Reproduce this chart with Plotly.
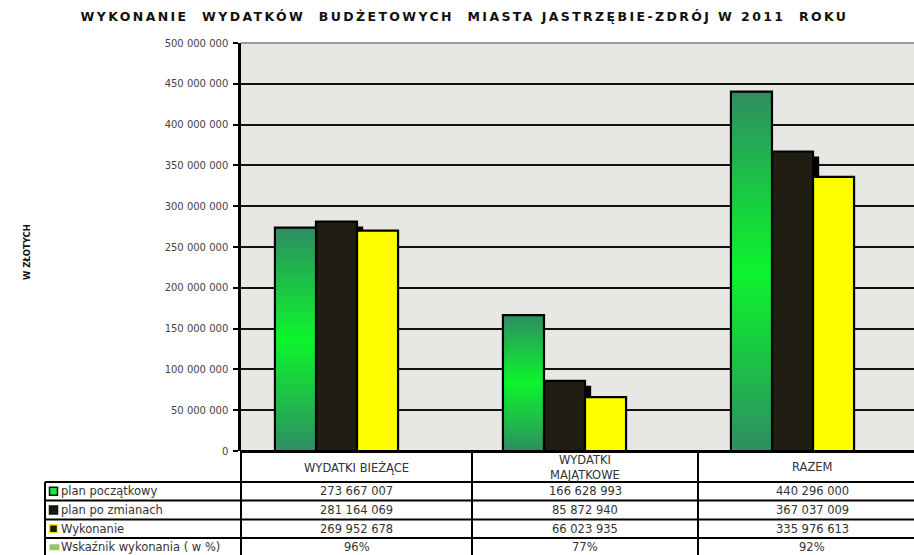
import plotly.graph_objects as go

# ---------------- data ----------------
categories = ["WYDATKI BIEŻĄCE", "WYDATKI<br>MAJĄTKOWE", "RAZEM"]
series_names = ["plan początkowy", "plan po zmianach", "Wykonanie", "Wskaźnik wykonania ( w %)"]
plan_poczatkowy = [273667007, 166628993, 440296000]
plan_po_zmianach = [281164069, 85872940, 367037009]
wykonanie = [269952678, 66023935, 335976613]
wskaznik_pct = [96, 77, 92]
y_ticks = [0, 50000000, 100000000, 150000000, 200000000, 250000000,
           300000000, 350000000, 400000000, 450000000, 500000000]

title_text = "WYKONANIE  WYDATKÓW  BUDŻETOWYCH  MIASTA JASTRZĘBIE-ZDRÓJ W 2011  ROKU"
y_title = "W ZŁOTYCH"

# ---------------- styling ----------------
W, H = 914, 555
FONT = "DejaVu Sans"
TXT = "#333333"
GREEN_SCALE = [[0, "#2E8E62"], [0.5, "#0CF52C"], [1, "#2E8E62"]]
BLACK_BAR = "#201D12"
YELLOW = "#FFFF00"
BAR_W = 0.18
SHADOW_DX = 0.027
SHADOW_DY = 6000000
icon_styles = [
    dict(fill="#17E83A", line="#111111"),
    dict(fill="#1A1A12", line="#111111"),
    dict(fill="#1A1A12", line="#F5F000"),
    dict(fill="#9BC36A", line="#9BC36A"),
]


def fmt(v):
    return f"{v:,}".replace(",", " ")


def fx(p):  # pixel -> paper x
    return p / W


def fy(p):  # pixel (from top) -> paper y
    return 1 - p / H


plot_left, plot_top, plot_bottom = 241, 43, 451
x_center0, x_step = 336.5, 228.0
x_lo = (plot_left - x_center0) / x_step
x_hi = (W - x_center0) / x_step

# table geometry (pixels)
tab_left = 45
col_edges = [tab_left, 241, 472, 698, W]
col_centers = [356.5, 585, 812]
row_lines = [482, 500.5, 519.5, 538, 556.5]
header_center = 467

xs = list(range(len(categories)))
fig = go.Figure()

# plan po zmianach - shadow (3D effect)
fig.add_trace(go.Bar(
    x=xs, y=[v - SHADOW_DY for v in plan_po_zmianach], width=BAR_W,
    offset=-BAR_W / 2 + SHADOW_DX, marker=dict(color="#000000", line=dict(width=0)),
    hoverinfo="skip", showlegend=False))
# plan po zmianach
fig.add_trace(go.Bar(
    x=xs, y=plan_po_zmianach, width=BAR_W, offset=-BAR_W / 2, name=series_names[1],
    marker=dict(color=BLACK_BAR, line=dict(color="#000000", width=2.2)), showlegend=False))
# wykonanie
fig.add_trace(go.Bar(
    x=xs, y=wykonanie, width=BAR_W, offset=BAR_W / 2, name=series_names[2],
    marker=dict(color=YELLOW, line=dict(color="#000000", width=2.2)), showlegend=False))
# plan poczatkowy - gradient filled bars
for i, v in enumerate(plan_poczatkowy):
    x0 = i - 1.5 * BAR_W
    x1 = i - 0.5 * BAR_W
    fig.add_trace(go.Scatter(
        x=[x0, x0, x1, x1, x0], y=[0, v, v, 0, 0], mode="lines", fill="toself",
        fillgradient=dict(type="vertical", colorscale=GREEN_SCALE),
        line=dict(color="#000000", width=2.2), name=series_names[0],
        showlegend=False, hoverinfo="skip"))

# ---------------- data table (shapes + text) ----------------
shapes = [dict(type="line", xref="x domain", yref="y domain",
               x0=0, x1=1, y0=1, y1=1, line=dict(color="#9A9A9A", width=2))]
line_style = dict(color="#000000", width=2)
for yl in row_lines:
    shapes.append(dict(type="line", xref="paper", yref="paper",
                       x0=fx(tab_left), x1=1, y0=fy(yl), y1=fy(yl), line=line_style))
shapes.append(dict(type="line", xref="paper", yref="paper",
                   x0=fx(tab_left), x1=fx(tab_left), y0=fy(row_lines[0]), y1=fy(H + 5),
                   line=line_style))
for xe in col_edges[1:4]:
    shapes.append(dict(type="line", xref="paper", yref="paper",
                       x0=fx(xe), x1=fx(xe), y0=fy(plot_bottom), y1=fy(H + 5),
                       line=line_style))

annotations = []
table_font = dict(family=FONT, size=11.5, color=TXT)
for i, cat in enumerate(categories):
    annotations.append(dict(text=cat, x=fx(col_centers[i]), y=fy(header_center),
                            xref="paper", yref="paper", showarrow=False,
                            xanchor="center", yanchor="middle", font=table_font))
row_values = [plan_poczatkowy, plan_po_zmianach, wykonanie]
for k in range(4):
    yc = (row_lines[k] + row_lines[k + 1]) / 2
    st = icon_styles[k]
    if k < 3:
        shapes.append(dict(type="rect", xref="paper", yref="paper",
                           x0=fx(49.5), x1=fx(57.5), y0=fy(yc + 4), y1=fy(yc - 4),
                           fillcolor=st["fill"], line=dict(color=st["line"], width=1.5)))
    else:
        shapes.append(dict(type="rect", xref="paper", yref="paper",
                           x0=fx(49.5), x1=fx(59.5), y0=fy(yc + 3), y1=fy(yc - 3),
                           fillcolor=st["fill"], line=dict(width=0)))
    annotations.append(dict(text=series_names[k], x=fx(59), y=fy(yc),
                            xref="paper", yref="paper", showarrow=False,
                            xanchor="left", yanchor="middle", font=table_font))
    for i in range(len(categories)):
        txt = fmt(row_values[k][i]) if k < 3 else f"{wskaznik_pct[i]}%"
        annotations.append(dict(text=txt, x=fx(col_centers[i]), y=fy(yc),
                                xref="paper", yref="paper", showarrow=False,
                                xanchor="center", yanchor="middle", font=table_font))

annotations.append(dict(text=y_title, textangle=-90, x=fx(20), y=fy(252),
                        xref="paper", yref="paper", showarrow=False,
                        font=dict(family=FONT, size=8.5, color="#111111", weight="bold")))

# ---------------- layout ----------------
fig.update_layout(
    width=W, height=H,
    margin=dict(l=0, r=0, t=0, b=0, autoexpand=False),
    paper_bgcolor="white",
    plot_bgcolor="#E7E7E3",
    barmode="overlay",
    showlegend=False,
    font=dict(family=FONT, color=TXT),
    title=dict(
        text='<span style="letter-spacing:2.4px">' + title_text.replace(" ", "\u00a0") + "</span>",
        x=fx(464.5), xanchor="center", xref="paper", y=fy(17), yanchor="middle",
        yref="paper", automargin=False,
        font=dict(family=FONT, size=12.5, color="#111111", weight="bold")),
    xaxis=dict(domain=[fx(plot_left), 1], range=[x_lo, x_hi], automargin=False,
               showticklabels=False, showgrid=False, zeroline=False,
               showline=False, ticks=""),
    yaxis=dict(domain=[fy(plot_bottom), fy(plot_top)], automargin=False,
               range=[0, 500000000], tickvals=y_ticks,
               ticktext=[fmt(v) for v in y_ticks],
               tickfont=dict(family=FONT, size=10, color="#444444"),
               ticks="outside", ticklen=5, tickwidth=2, tickcolor="black",
               ticklabelstandoff=3,
               showgrid=True, gridcolor="#111111", gridwidth=2,
               zeroline=True, zerolinecolor="black", zerolinewidth=2.5,
               showline=True, linecolor="black", linewidth=2.5),
    shapes=shapes,
    annotations=annotations,
)

fig.write_html(
    "out.html",
    config={"responsive": False, "displayModeBar": False},
    post_script="document.body.style.margin='0';document.body.style.overflow='hidden';",
)
